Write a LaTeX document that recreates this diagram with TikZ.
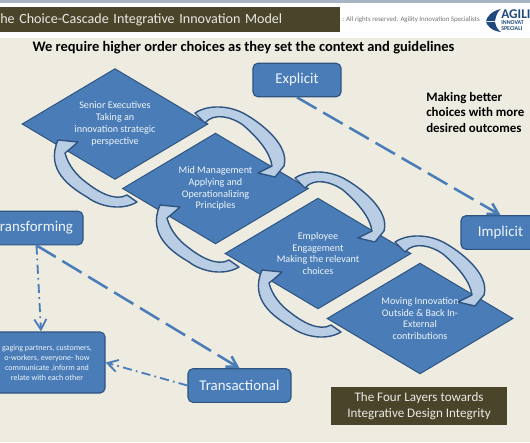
\documentclass[tikz,border=0pt]{standalone}
\usepackage{fontspec}
\setmainfont{Carlito}
\usepackage{xcolor}
\usetikzlibrary{arrows.meta,positioning,calc,shapes.geometric}
\definecolor{slidebg}{HTML}{EEECE1}
\definecolor{barolive}{HTML}{4A452A}
\definecolor{boxblue}{HTML}{4A7DB8}
\definecolor{boxedge}{HTML}{2F5480}
\definecolor{arcblue}{HTML}{B9CDE5}
\definecolor{topgrey}{HTML}{A6B4C4}
\definecolor{logoblue}{HTML}{1F497D}

\begin{document}
\begin{tikzpicture}[
  x=0.025cm, y=-0.025cm,
  >={Straight Barb[length=2.6mm,width=3mm]},
  every node/.style={align=center},
  box/.style      = {draw=boxedge, fill=boxblue, line width=0.8pt, rounded corners=3.5pt,
                     text=white!92!boxblue, inner sep=0pt},
  bigbox/.style   = {box, font=\fontsize{10.6}{12}\selectfont, minimum height=0.84cm},
  layernd/.style  = {diamond, draw=boxedge, fill=boxblue, line width=0.7pt, inner sep=0pt,
                     aspect=1.68, minimum width=4.65cm, minimum height=2.77cm,
                     text=white!92!boxblue, font=\fontsize{7.2}{8.4}\selectfont},
  arc/.style      = {draw=boxedge, fill=arcblue, line width=1pt, line join=round},
  bar/.style      = {fill=barolive, draw=none, text=white!88!barolive, inner sep=0pt},
  dashlink/.style = {->, draw=boxblue, line width=1.8pt, dash pattern=on 16pt off 5.5pt},
  dotlink/.style  = {->, draw=boxblue, line width=1.3pt, dash pattern=on 6.5pt off 3pt on 1.2pt off 3pt}
]
\useasboundingbox (0,0) rectangle (530,442);
% slide background
\fill[white] (0,0) rectangle (530,442);
\fill[slidebg] (0,38) rectangle (530,442);
\fill[topgrey] (0,0) rectangle (530,2.5);

% header
\node[bar, anchor=west, minimum width=8.5cm, minimum height=0.625cm, text width=8.5cm, align=left,
      font=\fontsize{10}{12}\selectfont] (title) at (0,19.5)
  {he Choice-Cascade Integrative Innovation Model};
\node[anchor=west, inner sep=0pt, text=black!55, font=\fontsize{4.9}{5}\selectfont] (rights) at (342,20)
  {: All rights reserved. Agility Innovation Specialists};
\node[anchor=west, inner sep=0pt, text=logoblue, font=\bfseries\fontsize{9.5}{9}\selectfont] (agile) at (501,14) {AGILI};
\node[anchor=north west, inner sep=0pt, text=logoblue, align=left, font=\bfseries\fontsize{4.2}{4.6}\selectfont] (agilesub) at (501,20)
  {INNOVAT\\SPECIALI};
\fill[logoblue] (501,9) .. controls (491,11) and (487,17) .. (486,21) -- (495,21)
  .. controls (496,15) and (498,11) .. (501,9) -- cycle;
\fill[logoblue] (501,32) .. controls (491,31) and (487,25) .. (486,22) -- (495,22)
  .. controls (496,27) and (498,30) .. (501,32) -- cycle;

\node[inner sep=0pt, font=\bfseries\fontsize{10.3}{12}\selectfont] (headline) at (243.5,48)
  {We require higher order choices as they set the context and guidelines};
\node[anchor=north west, align=left, inner sep=0pt, font=\bfseries\fontsize{9.2}{11}\selectfont] (better) at (426,92)
  {Making better\\choices with more\\desired outcomes};

% four layers
\node[layernd] (senior) at (115,124) {Senior Executives\\Taking an\\innovation strategic\\perspective};
\node[layernd] (mid) at (215.5,188.5) {Mid Management\\Applying and\\Operationalizing\\Principles};
\node[layernd] (empl) at (318,253.5) {Employee\\Engagement\\Making the relevant\\choices};
\node[layernd] (outside) at (420,318.5) {Moving Innovation\\Outside \& Back In-\\External\\contributions};

% arrows between the layers
\foreach \sx/\sy in {0/0, 100/65, 200/129} {
  \draw[arc, shift={(\sx,\sy)}] (195,113) .. controls (205,106) and (225,104) .. (243,113)
    .. controls (260,122) and (290,145) .. (284,166) -- (275,177) -- (258,173) -- (272,166)
    .. controls (270,152) and (258,138) .. (243,125) .. controls (232,117) and (214,112) .. (205,123) -- cycle;
}
\foreach \sx/\sy in {0/0, 102/65, 204/130} {
  \draw[arc, shift={(\sx,\sy)}] (137,202) .. controls (122,211) and (100,207) .. (87,197)
    .. controls (70,187) and (45,170) .. (58,140) -- (78,142) -- (70,149) -- (65,153)
    .. controls (68,165) and (77,176) .. (87,183) .. controls (97,191) and (115,202) .. (127,195) -- cycle;
}

% outer boxes
\node[bigbox, minimum width=2.2cm] (explicit) at (297,80) {Explicit};
\node[bigbox, minimum width=1.975cm] (implicit) at (500.5,232.5) {Implicit};
\node[bigbox, minimum width=2.325cm] (transf) at (36.5,228) {ransforming};
\node[bigbox, minimum width=2.575cm] (transac) at (239.5,385.5) {Transactional};
\node[box, minimum width=2.9cm, minimum height=1.525cm, font=\fontsize{5.7}{7.2}\selectfont] (engage) at (47,362.5)
  {gaging partners, customers,\\o-workers, everyone- how\\communicate ,inform and\\relate with each other};
\node[bar, minimum width=4.4cm, minimum height=0.95cm, font=\fontsize{9.3}{11.3}\selectfont] (fourlayers) at (419,406)
  {The Four Layers towards\\Integrative Design Integrity};

% connectors
\draw[dashlink] (explicit.south) -- (implicit.north);
\draw[dashlink] (transf.south) -- (transac.north);
\draw[dotlink] (transf.south) -- ($(engage.north)+(-6,0)$);
\draw[dotlink] (transac.west) -- (engage.east);
\end{tikzpicture}
\end{document}
